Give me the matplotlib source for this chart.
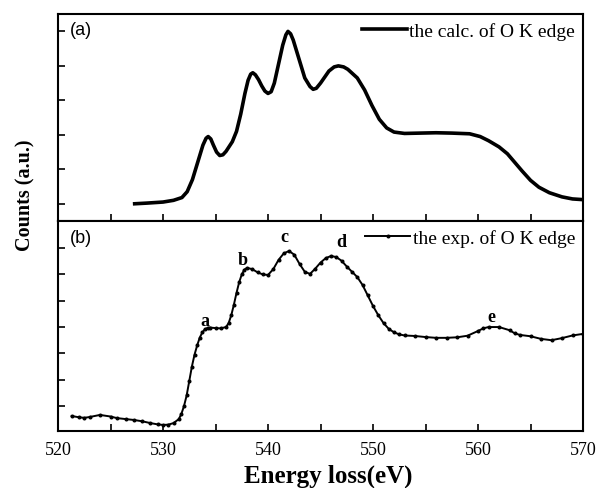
import matplotlib.pyplot as plt
from matplotlib.ticker import MultipleLocator

# calculated O K edge (panel a)
calc_e = [527.3, 528.5, 530.0, 531.0, 531.8, 532.3, 532.8, 533.3, 533.8, 534.1,
          534.3, 534.55, 534.8, 535.1, 535.4, 535.7, 536.0, 536.6, 537.0, 537.4,
          537.8, 538.1, 538.35, 538.55, 538.8, 539.1, 539.4, 539.7, 540.0, 540.3,
          540.6, 541.0, 541.4, 541.7, 541.9, 542.15, 542.4, 542.9, 543.5, 544.0,
          544.3, 544.6, 545.0, 545.8, 546.3, 546.7, 547.2, 547.6, 548.5, 549.2,
          549.9, 550.6, 551.3, 552.0, 553.0, 554.5, 556.0, 557.5, 559.2, 560.2,
          561.0, 562.0, 562.8, 563.5, 564.2, 565.0, 565.8, 566.8, 568.0, 569.0,
          570.0]
calc_y = [0.00, 0.02, 0.05, 0.10, 0.18, 0.35, 0.70, 1.20, 1.70, 1.90,
          1.95, 1.88, 1.70, 1.50, 1.40, 1.42, 1.52, 1.80, 2.10, 2.60,
          3.20, 3.58, 3.76, 3.80, 3.74, 3.60, 3.42, 3.27, 3.20, 3.25,
          3.50, 4.05, 4.60, 4.90, 5.00, 4.93, 4.75, 4.25, 3.65, 3.40,
          3.32, 3.35, 3.50, 3.85, 3.97, 4.00, 3.97, 3.90, 3.65, 3.30,
          2.85, 2.45, 2.20, 2.08, 2.04, 2.05, 2.06, 2.05, 2.03, 1.95,
          1.83, 1.65, 1.45, 1.20, 0.95, 0.68, 0.48, 0.32, 0.20, 0.14,
          0.12]

# experimental O K edge (panel b)
exp_e = [521.3, 522.0, 522.5, 523.0, 524.0, 525.0, 525.6, 526.5, 527.2, 528.0,
         528.8, 529.5, 530.0, 530.5, 531.0, 531.5, 531.75, 532.0, 532.25, 532.5,
         532.75, 533.0, 533.25, 533.5, 533.75, 534.0, 534.25, 534.5, 535.0, 535.5,
         536.0, 536.25, 536.5, 536.75, 537.0, 537.25, 537.5, 537.75, 538.0, 538.5,
         539.0, 539.5, 540.0, 540.5, 541.0, 541.5, 542.0, 542.5, 543.0, 543.5,
         544.0, 544.5, 545.0, 545.5, 546.0, 546.5, 547.0, 547.5, 548.0, 548.5,
         549.0, 549.5, 550.0, 550.5, 551.0, 551.5, 552.0, 552.5, 553.0, 554.0,
         555.0, 556.0, 557.0, 558.0, 559.0, 560.0, 560.5, 561.0, 562.0, 563.0,
         563.5, 564.0, 565.0, 566.0, 567.0, 568.0, 569.0, 570.0]
exp_y = [-0.38, -0.43, -0.45, -0.42, -0.34, -0.40, -0.46, -0.50, -0.53, -0.58,
         -0.65, -0.70, -0.72, -0.71, -0.65, -0.50, -0.30, 0.00, 0.40, 0.95,
         1.50, 1.95, 2.30, 2.60, 2.80, 2.92, 2.97, 2.98, 2.96, 2.95,
         3.00, 3.15, 3.45, 3.85, 4.30, 4.70, 5.00, 5.18, 5.25, 5.20,
         5.08, 5.00, 4.98, 5.20, 5.55, 5.80, 5.89, 5.75, 5.40, 5.10,
         5.02, 5.22, 5.45, 5.62, 5.70, 5.66, 5.52, 5.30, 5.10, 4.90,
         4.60, 4.20, 3.80, 3.45, 3.15, 2.93, 2.80, 2.72, 2.68, 2.66,
         2.62, 2.59, 2.59, 2.61, 2.67, 2.85, 2.95, 3.00, 3.00, 2.88,
         2.76, 2.70, 2.65, 2.55, 2.50, 2.58, 2.68, 2.74]

peak_labels = ['a', 'b', 'c', 'd', 'e']
peak_e = [534.0, 537.6, 541.6, 547.0, 561.3]
peak_y = [3.25, 5.55, 6.45, 6.25, 3.40]

serif = 'Liberation Serif'
sans = 'Liberation Sans'

fig = plt.figure(figsize=(6.0, 4.89), dpi=100)
ax1 = fig.add_axes([0.0967, 0.546, 0.875, 0.423])
ax2 = fig.add_axes([0.0967, 0.1166, 0.875, 0.4294], sharex=ax1)

ax1.plot(calc_e, calc_y, color='black', lw=2.6, label='the calc. of O K edge')
ax2.plot(exp_e, exp_y, color='black', lw=1.4, marker='o', markersize=1.9,
         label='the exp. of O K edge')

ax1.set_ylim(-0.5, 5.5)
ax2.set_ylim(-0.95, 7.03)
ax1.set_xlim(520, 570)

for ax in (ax1, ax2):
    ax.tick_params(direction='in', which='both', width=1.2, length=5,
                   labelsize=13, pad=7)
    ax.xaxis.set_major_locator(MultipleLocator(10))
    ax.xaxis.set_minor_locator(MultipleLocator(5))
    ax.yaxis.set_major_locator(MultipleLocator(1))
    for s in ax.spines.values():
        s.set_linewidth(1.5)

ax1.tick_params(labelbottom=False, labelleft=False)
ax2.set_yticks([0, 1, 2, 3, 4, 5, 6])
ax2.tick_params(labelleft=False)
for lbl in ax2.get_xticklabels():
    lbl.set_family(serif)

ax1.text(0.022, 0.925, '(a)', transform=ax1.transAxes, fontsize=13,
         family=sans, va='center')
ax2.text(0.022, 0.92, '(b)', transform=ax2.transAxes, fontsize=13,
         family=sans, va='center')

for t, x, y in zip(peak_labels, peak_e, peak_y):
    ax2.text(x, y, t, fontsize=13, family=serif, fontweight='bold',
             ha='center', va='center')

leg_kw = dict(loc='upper right', frameon=False, handlelength=2.3,
              handletextpad=0.15, borderaxespad=0.1, borderpad=0.3,
              prop={'family': serif, 'size': 14})
ax1.legend(**leg_kw)
ax2.legend(numpoints=1, **leg_kw)

ax2.set_xlabel('Energy loss(eV)', fontsize=18, family=serif,
               fontweight='bold')
ax2.xaxis.set_label_coords(0.515, -0.155)
fig.text(0.042, 0.60, 'Counts (a.u.)', rotation=90, fontsize=14.5,
         family=serif, fontweight='bold', ha='center', va='center')

fig.savefig('out.png', dpi=100)
